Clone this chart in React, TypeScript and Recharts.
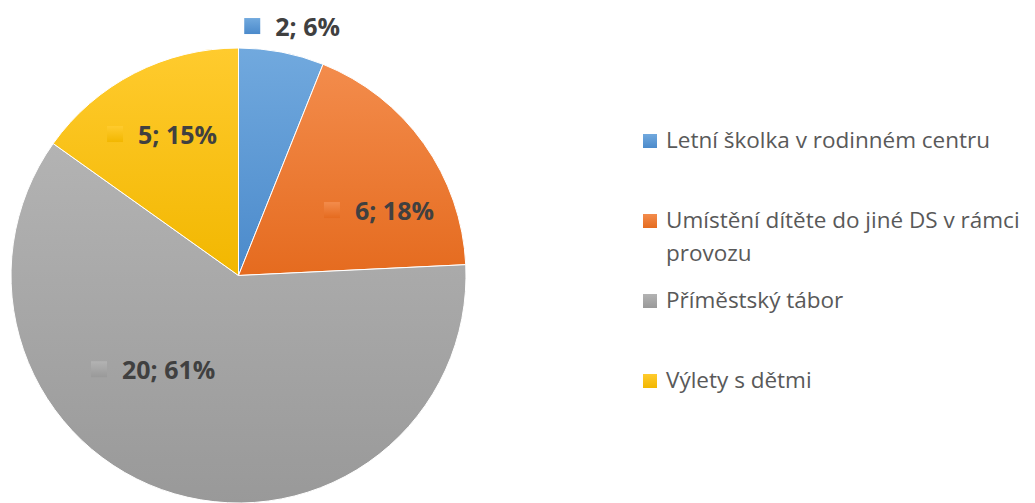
import React from "react";
import { PieChart, Pie, Cell, Legend } from "recharts";

const categories = [
  "Letní školka v rodinném centru",
  "Umístění dítěte do jiné DS v rámci provozu",
  "Příměstský tábor",
  "Výlety s dětmi",
];
const counts = [2, 6, 20, 5];
const percents = ["6%", "18%", "61%", "15%"];

// gradient stops per slice: top, bottom
const colorsTop = ["#71A9DE", "#F38C4C", "#B3B3B3", "#FFCB2E"];
const colorsBottom = ["#4B8ACB", "#E56B1F", "#999999", "#F2B700"];

// label placement relative to slice mid angle (radius factor, angle shift in degrees)
const labelRadius = [1.104, 0.585, 0.66, 0.759];
const labelShift = [-2.5, 6.5, 34.5, -8.3];

const data = categories.map((name, i) => ({ name, value: counts[i], pct: percents[i] }));

const RAD = Math.PI / 180;

function renderLabel(props: any) {
  const { cx, cy, midAngle, outerRadius, index } = props;
  const a = (90 - midAngle + labelShift[index]) * RAD;
  const r = outerRadius * labelRadius[index];
  const x = cx + r * Math.sin(a);
  const y = cy - r * Math.cos(a);
  return (
    <g>
      <rect x={x - 31} y={y - 9} width={16} height={16} fill={`url(#grad${index})`} />
      <text
        x={x}
        y={y + 9}
        fill="#404040"
        fontSize={25}
        fontWeight="bold"
        fontFamily="'Open Sans', sans-serif"
      >
        {`${counts[index]}; ${percents[index]}`}
      </text>
    </g>
  );
}

function renderLegend() {
  return (
    <div style={{ fontFamily: "'Open Sans', sans-serif", fontSize: 22.5, color: "#595959" }}>
      {categories.map((name, i) => (
        <div key={name} style={{ display: "flex", height: 80, lineHeight: "33px" }}>
          <div
            style={{
              width: 14,
              height: 14,
              marginTop: 11,
              marginRight: 9,
              flexShrink: 0,
              background: `linear-gradient(${colorsTop[i]}, ${colorsBottom[i]})`,
            }}
          />
          <div style={{ width: 369 }}>{name}</div>
        </div>
      ))}
    </div>
  );
}

export default function App() {
  return (
    <div style={{ position: "fixed", left: 0, top: 0, width: 1035, height: 503, background: "#fff" }}>
      <PieChart width={1035} height={503} margin={{ top: 0, right: 0, bottom: 0, left: 0 }}>
        <defs>
          {colorsTop.map((c, i) => (
            <linearGradient key={i} id={`grad${i}`} x1="0" y1="0" x2="0" y2="1">
              <stop offset="0%" stopColor={c} />
              <stop offset="100%" stopColor={colorsBottom[i]} />
            </linearGradient>
          ))}
        </defs>
        <Pie
          data={data}
          dataKey="value"
          nameKey="name"
          cx={238.5}
          cy={275.5}
          outerRadius={227.5}
          startAngle={90}
          endAngle={-270}
          stroke="#ffffff"
          strokeWidth={1}
          label={renderLabel}
          labelLine={false}
          isAnimationActive={false}
        >
          {data.map((d, i) => (
            <Cell key={d.name} fill={`url(#grad${i})`} />
          ))}
        </Pie>
        <Legend
          layout="vertical"
          align="right"
          verticalAlign="top"
          content={renderLegend}
          wrapperStyle={{ position: "absolute", left: 643, top: 123, width: 392 }}
        />
      </PieChart>
    </div>
  );
}
